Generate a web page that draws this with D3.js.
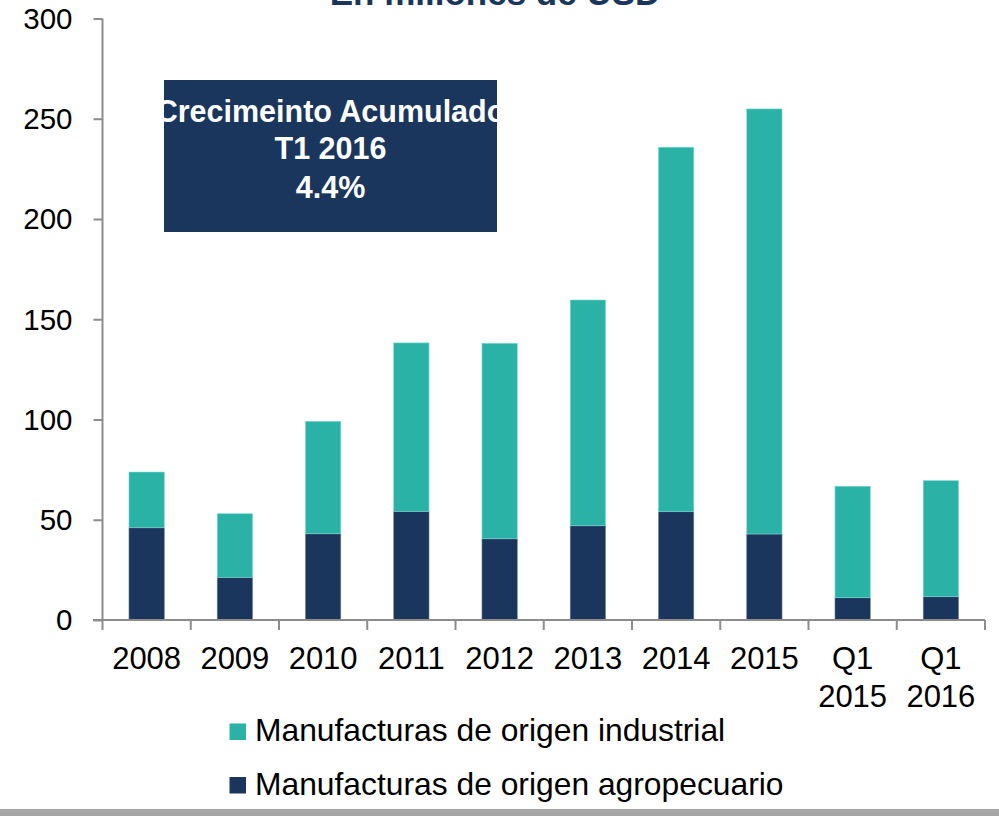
<!DOCTYPE html>
<html>
<head>
<meta charset="utf-8">
<script src="https://cdn.jsdelivr.net/npm/d3@7"></script>
<style>
  html, body { margin: 0; padding: 0; background: #fff; }
  svg { display: block; font-family: "Liberation Sans", Arial, sans-serif; }
</style>
</head>
<body>
<svg id="chart" width="999" height="816"></svg>
<script>
// ---- Data ----
const categories = ["2008", "2009", "2010", "2011", "2012", "2013", "2014", "2015", "Q1 2015", "Q1 2016"];
const totals = [73.8, 53.0, 99.1, 138.2, 138.0, 159.6, 235.8, 254.9, 66.7, 69.5];
const agropecuario = [46.0, 21.3, 43.0, 54.2, 40.5, 47.0, 54.0, 42.9, 11.1, 11.6];
const industrial = totals.map((t, i) => +(t - agropecuario[i]).toFixed(1));
const seriesNames = ["Manufacturas de origen agropecuario", "Manufacturas de origen industrial"];
const yTicks = [0, 50, 100, 150, 200, 250, 300];
const titleText = "En millones de USD";
const boxLines = ["Crecimeinto Acumulado", "T1 2016", "4.4%"];

// ---- Styles ----
const NAVY = "#1b365d";
const TEAL = "#2ab2a6";
const AXIS = "#8c8c8c";

const svg = d3.select("#chart");

const x = d3.scaleBand().domain(categories).range([102.5, 985]).paddingInner(0.6).paddingOuter(0.3);
const y = d3.scaleLinear().domain([0, 300]).range([620, 18.5]);

// Title (cut off at top, as in the reference)
svg.append("text")
  .attr("x", 495).attr("y", 5)
  .attr("text-anchor", "middle")
  .attr("font-weight", "bold")
  .attr("font-size", 35)
  .attr("fill", NAVY)
  .text(titleText);

// Stacked data
const rows = categories.map((c, i) => ({ cat: c, agro: agropecuario[i], ind: industrial[i] }));
const stack = d3.stack().keys(["agro", "ind"]);
const layers = stack(rows);
const colors = { agro: NAVY, ind: TEAL };
const strokes = { agro: "#6b7f99", ind: "#7fd9d0" };

svg.append("g").selectAll("g")
  .data(layers).join("g")
  .attr("fill", d => colors[d.key])
  .selectAll("rect")
  .data(d => d.map(v => Object.assign(v, { key: d.key })))
  .join("rect")
  .attr("x", d => x(d.data.cat))
  .attr("width", x.bandwidth())
  .attr("y", d => y(d[1]))
  .attr("height", d => y(d[0]) - y(d[1]))
  .attr("stroke", d => strokes[d.key])
  .attr("stroke-width", 0.6);

// Y axis
const yAxis = d3.axisLeft(y).tickValues(yTicks).tickSize(9).tickPadding(21);
const gy = svg.append("g").attr("transform", "translate(102.5,0)").call(yAxis);
gy.select(".domain").attr("stroke", AXIS).attr("stroke-width", 2).attr("d", "M0,18.5V620");
gy.selectAll(".tick line").attr("stroke", AXIS).attr("stroke-width", 2);
gy.selectAll(".tick text")
  .attr("font-size", 29.5)
  .attr("font-family", "Liberation Sans, Arial, sans-serif")
  .attr("fill", "#000")
  .attr("dy", "0.33em");

// X axis: baseline line and boundary ticks
const xr = x.range();
const step = x.step();
svg.append("line")
  .attr("x1", 93).attr("x2", xr[1])
  .attr("y1", y(0)).attr("y2", y(0))
  .attr("stroke", AXIS).attr("stroke-width", 2);
const bounds = d3.range(categories.length + 1).map(i => xr[0] + i * step);
svg.append("g").selectAll("line")
  .data(bounds).join("line")
  .attr("x1", d => d).attr("x2", d => d)
  .attr("y1", y(0)).attr("y2", y(0) + 10)
  .attr("stroke", AXIS).attr("stroke-width", 2);

// X labels (multi-line for quarter labels)
const xl = svg.append("g").selectAll("text")
  .data(categories).join("text")
  .attr("x", d => x(d) + x.bandwidth() / 2)
  .attr("y", 669)
  .attr("text-anchor", "middle")
  .attr("font-size", 31)
  .attr("fill", "#000");
xl.each(function(d) {
  const parts = d.split(" ");
  const t = d3.select(this);
  parts.forEach((p, i) => {
    t.append("tspan")
      .attr("x", x(d) + x.bandwidth() / 2)
      .attr("dy", i === 0 ? 0 : 37.5)
      .text(p);
  });
});

// Annotation box
const box = { x: 164, y: 80, w: 333, h: 152 };
svg.append("clipPath").attr("id", "boxclip")
  .append("rect").attr("x", box.x).attr("y", box.y).attr("width", box.w).attr("height", box.h);
svg.append("rect")
  .attr("x", box.x).attr("y", box.y).attr("width", box.w).attr("height", box.h)
  .attr("fill", NAVY);
const boxBaselines = [121.7, 159.3, 198.3];
svg.append("g").attr("clip-path", "url(#boxclip)")
  .selectAll("text").data(boxLines).join("text")
  .attr("x", box.x + box.w / 2)
  .attr("y", (d, i) => boxBaselines[i])
  .attr("text-anchor", "middle")
  .attr("font-weight", "bold")
  .attr("font-size", 30.5)
  .attr("fill", "#fff")
  .text(d => d);

// Legend
const legendItems = [
  { name: seriesNames[1], color: TEAL, y: 723.5 },
  { name: seriesNames[0], color: NAVY, y: 777 }
];
const lg = svg.append("g").selectAll("g").data(legendItems).join("g");
lg.append("rect")
  .attr("x", 229.5).attr("y", d => d.y)
  .attr("width", 16.5).attr("height", 16.5)
  .attr("fill", d => d.color);
lg.append("text")
  .attr("x", 255).attr("y", d => d.y + 17.5)
  .attr("font-size", 31.8)
  .attr("fill", "#000")
  .text(d => d.name);

// Bottom gray bar
svg.append("rect")
  .attr("x", 0).attr("y", 809).attr("width", 999).attr("height", 7)
  .attr("fill", "#a6a6a6");
</script>
</body>
</html>
